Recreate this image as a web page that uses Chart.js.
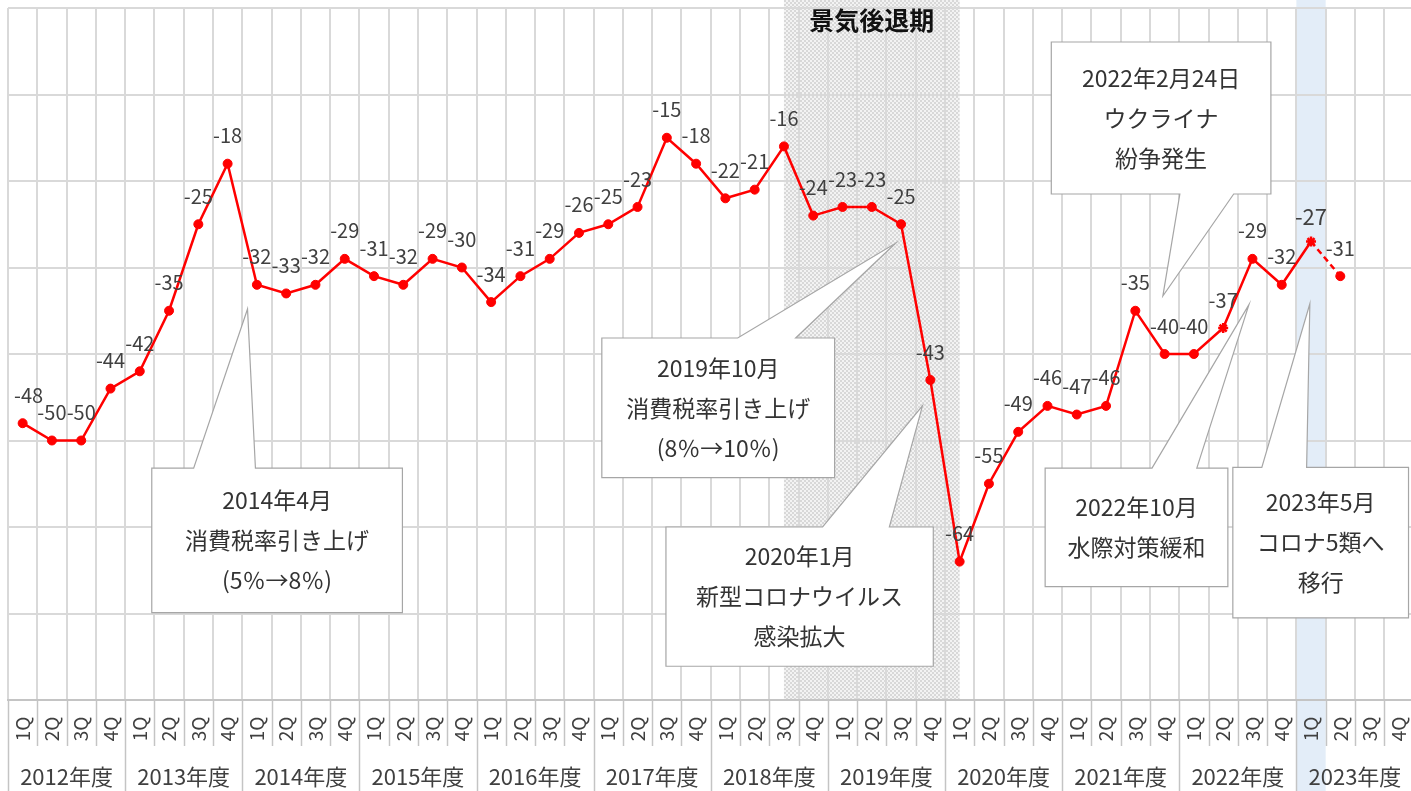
<!DOCTYPE html>
<html><head><meta charset="utf-8">
<script src="https://cdn.jsdelivr.net/npm/chart.js@4/dist/chart.umd.min.js"></script>
<style>
html,body{margin:0;padding:0;background:#fff;overflow:hidden}
#c{display:block}
</style></head>
<body><canvas id="c" width="1419" height="791" style="width:1419px;height:791px"></canvas>
<script>
// ---- data ----
const fiscalYears = ['2012年度','2013年度','2014年度','2015年度','2016年度','2017年度','2018年度','2019年度','2020年度','2021年度','2022年度','2023年度'];
const quarters = ['1Q','2Q','3Q','4Q'];
const diValues = [
  -48,-50,-50,-44,
  -42,-35,-25,-18,
  -32,-33,-32,-29,
  -31,-32,-29,-30,
  -34,-31,-29,-26,
  -25,-23,-15,-18,
  -22,-21,-16,-24,
  -23,-23,-25,-43,
  -64,-55,-49,-46,
  -47,-46,-35,-40,
  -40,-37,-29,-32,
  -27,-31
];
const yMin = -80, yMax = 0, yStep = 10;
const recessionLabel = '景気後退期';
const recessionFromIdx = 26, recessionToIdx = 32;
const highlightIdx = 44;      // 2023 1Q
const starMarkerIdx = [41, 44];
const dashedFromIdx = 44;

// callouts: box in data space [xLeft, xRight, yTop, yBottom], wedge base x's, tip (x,y), side of wedge
const callouts = [
  {lines:['2014年4月','消費税率引き上げ','(5％→8％)'], box:[4.41,12.97,-53.2,-69.9], base:[5.84,7.95], tip:[7.68,-34.8], side:'top'},
  {lines:['2019年10月','消費税率引き上げ','(8％→10％)'], box:[19.78,27.73,-38.15,-54.3], base:[24.42,26.4], tip:[29.81,-27.2], side:'top'},
  {lines:['2020年1月','新型コロナウイルス','感染拡大'], box:[21.97,31.1,-60.0,-76.1], base:[27.32,29.6], tip:[30.73,-46.0], side:'top'},
  {lines:['2022年2月24日','ウクライナ','紛争発生'], box:[35.13,42.63,-3.93,-21.5], base:[39.52,41.36], tip:[38.94,-33.3], side:'bottom'},
  {lines:['2022年10月','水際対策緩和'], box:[34.92,41.16,-53.2,-66.9], base:[38.57,40.1], tip:[41.88,-34.3], side:'top'},
  {lines:['2023年5月','コロナ5類へ','移行'], box:[41.33,47.33,-53.1,-70.5], base:[42.32,43.85], tip:[43.96,-34.2], side:'top'}
];

// ---- build ----
const labels = [];
fiscalYears.forEach(fy => quarters.forEach(q => labels.push(fy + ' ' + q)));

const FONT = '"Noto Sans CJK JP","Noto Sans",sans-serif';
const RED = '#ff0000';

function makeChecker(ctx){
  const pc = document.createElement('canvas'); pc.width = 4; pc.height = 4;
  const p = pc.getContext('2d');
  p.fillStyle = '#f3f3f3'; p.fillRect(0,0,4,4);
  p.fillStyle = '#d8d8d8'; p.fillRect(0,0,2,2); p.fillRect(2,2,2,2);
  return ctx.createPattern(pc, 'repeat');
}

const bgPlugin = {
  id: 'bg',
  beforeDraw(chart){
    const {ctx, chartArea, scales:{x, y}} = chart;
    ctx.save();
    ctx.fillStyle = '#ffffff';
    ctx.fillRect(0, 0, chart.width, chart.height);
    // highlight column (2023 1Q)
    ctx.fillStyle = '#e3edf8';
    const hx0 = x.getPixelForValue(highlightIdx - 0.5), hx1 = x.getPixelForValue(highlightIdx + 0.5);
    ctx.fillRect(hx0, 0, hx1 - hx0, chart.height);
    // recession shading
    ctx.fillStyle = makeChecker(ctx);
    const rx0 = x.getPixelForValue(recessionFromIdx), rx1 = x.getPixelForValue(recessionToIdx);
    ctx.fillRect(rx0, 0, rx1 - rx0, chartArea.bottom);
    ctx.restore();
  }
};

const labelPlugin = {
  id: 'labels',
  afterDatasetsDraw(chart){
    const {ctx, chartArea} = chart;
    const meta = chart.getDatasetMeta(0);
    ctx.save();
    ctx.fillStyle = '#404040';
    ctx.textAlign = 'center';
    ctx.textBaseline = 'middle';
    meta.data.forEach((pt, i) => {
      const v = diValues[i];
      if (v === undefined) return;
      const big = i === highlightIdx;
      ctx.font = (big ? '22px ' : '20px ') + FONT;
      const t = String(v);
      const w = ctx.measureText(t).width;
      let px = Math.max(pt.x, chartArea.left + w / 2 + 6);
      ctx.fillText(t, px, pt.y - (big ? 25 : 28));
    });
    ctx.restore();
  },
  afterDraw(chart){
    const {ctx, chartArea, scales:{x, y}} = chart;
    const bottom = chartArea.bottom, H = chart.height;
    ctx.save();
    // recession label
    ctx.fillStyle = '#111';
    ctx.font = 'bold 25px ' + FONT;
    ctx.textAlign = 'center'; ctx.textBaseline = 'middle';
    ctx.fillText(recessionLabel, (x.getPixelForValue(recessionFromIdx) + x.getPixelForValue(recessionToIdx)) / 2, 20);

    // axis separators
    ctx.strokeStyle = '#c4c4c4';
    ctx.lineWidth = 1.5;
    for (let i = 0; i <= labels.length; i++){
      const bx = Math.round(x.getPixelForValue(i - 0.5)) + 0.5;
      ctx.beginPath();
      ctx.moveTo(bx, bottom);
      ctx.lineTo(bx, i % 4 === 0 ? H : bottom + 46);
      ctx.stroke();
    }
    // quarter labels
    ctx.fillStyle = '#404040';
    ctx.font = '19px ' + FONT;
    for (let i = 0; i < labels.length; i++){
      const cx = x.getPixelForValue(i);
      ctx.save();
      ctx.translate(cx, bottom + 29);
      ctx.rotate(-Math.PI / 2);
      ctx.textAlign = 'center'; ctx.textBaseline = 'middle';
      ctx.fillText(quarters[i % 4], 0, 0);
      ctx.restore();
    }
    // year labels
    ctx.font = '22px ' + FONT;
    ctx.textAlign = 'center'; ctx.textBaseline = 'middle';
    fiscalYears.forEach((fy, k) => {
      ctx.fillText(fy, x.getPixelForValue(4 * k + 1.5), bottom + 77);
    });

    // callouts
    callouts.forEach(c => {
      const l = x.getPixelForValue(c.box[0]), r = x.getPixelForValue(c.box[1]);
      const t = y.getPixelForValue(c.box[2]), b = y.getPixelForValue(c.box[3]);
      const a0 = x.getPixelForValue(Math.min(c.base[0], c.base[1]));
      const a1 = x.getPixelForValue(Math.max(c.base[0], c.base[1]));
      const tx = x.getPixelForValue(c.tip[0]), ty = y.getPixelForValue(c.tip[1]);
      ctx.beginPath();
      if (c.side === 'top'){
        ctx.moveTo(l, t); ctx.lineTo(a0, t); ctx.lineTo(tx, ty); ctx.lineTo(a1, t);
        ctx.lineTo(r, t); ctx.lineTo(r, b); ctx.lineTo(l, b); ctx.closePath();
      } else {
        ctx.moveTo(l, t); ctx.lineTo(r, t); ctx.lineTo(r, b); ctx.lineTo(a1, b);
        ctx.lineTo(tx, ty); ctx.lineTo(a0, b); ctx.lineTo(l, b); ctx.closePath();
      }
      ctx.fillStyle = '#ffffff';
      ctx.fill();
      ctx.strokeStyle = '#a6a6a6';
      ctx.lineWidth = 1.2;
      ctx.stroke();
      ctx.fillStyle = '#333333';
      ctx.font = '23px ' + FONT;
      ctx.textAlign = 'center'; ctx.textBaseline = 'middle';
      const cx = (l + r) / 2, cy = (t + b) / 2;
      const n = c.lines.length;
      c.lines.forEach((s, j) => ctx.fillText(s, cx, cy + (j - (n - 1) / 2) * 40));
    });
    ctx.restore();
  }
};

const pointStyles = diValues.map((v, i) => starMarkerIdx.includes(i) ? 'star' : 'circle');
const pointRadii = diValues.map((v, i) => starMarkerIdx.includes(i) ? 5 : 4.5);
const pointBorderW = diValues.map((v, i) => starMarkerIdx.includes(i) ? 2.5 : 1);

new Chart(document.getElementById('c'), {
  type: 'line',
  data: {
    labels,
    datasets: [{
      data: diValues,
      borderColor: RED,
      backgroundColor: RED,
      borderWidth: 2.5,
      pointStyle: pointStyles,
      pointRadius: pointRadii,
      pointBorderWidth: pointBorderW,
      pointBackgroundColor: RED,
      pointBorderColor: RED,
      tension: 0,
      clip: false,
      segment: {
        borderDash: ctx => ctx.p0DataIndex >= dashedFromIdx ? [6, 4] : undefined
      }
    }]
  },
  options: {
    responsive: false,
    maintainAspectRatio: false,
    devicePixelRatio: 1,
    animation: false,
    events: [],
    layout: { padding: { left: 8, top: 8, right: 0, bottom: 91 } },
    plugins: { legend: { display: false }, tooltip: { enabled: false }, title: { display: false } },
    scales: {
      x: {
        type: 'category',
        offset: true,
        grid: { offset: true, color: '#d9d9d9', lineWidth: 2, drawTicks: false },
        border: { display: true, color: '#c4c4c4', width: 2 },
        ticks: { display: false },
        afterFit: s => { s.height = 0; }
      },
      y: {
        min: yMin, max: yMax,
        ticks: { display: false, stepSize: yStep },
        grid: { color: '#d9d9d9', lineWidth: 2, drawTicks: false },
        border: { display: false },
        afterFit: s => { s.width = 0; }
      }
    }
  },
  plugins: [bgPlugin, labelPlugin]
});
</script>
</body></html>
